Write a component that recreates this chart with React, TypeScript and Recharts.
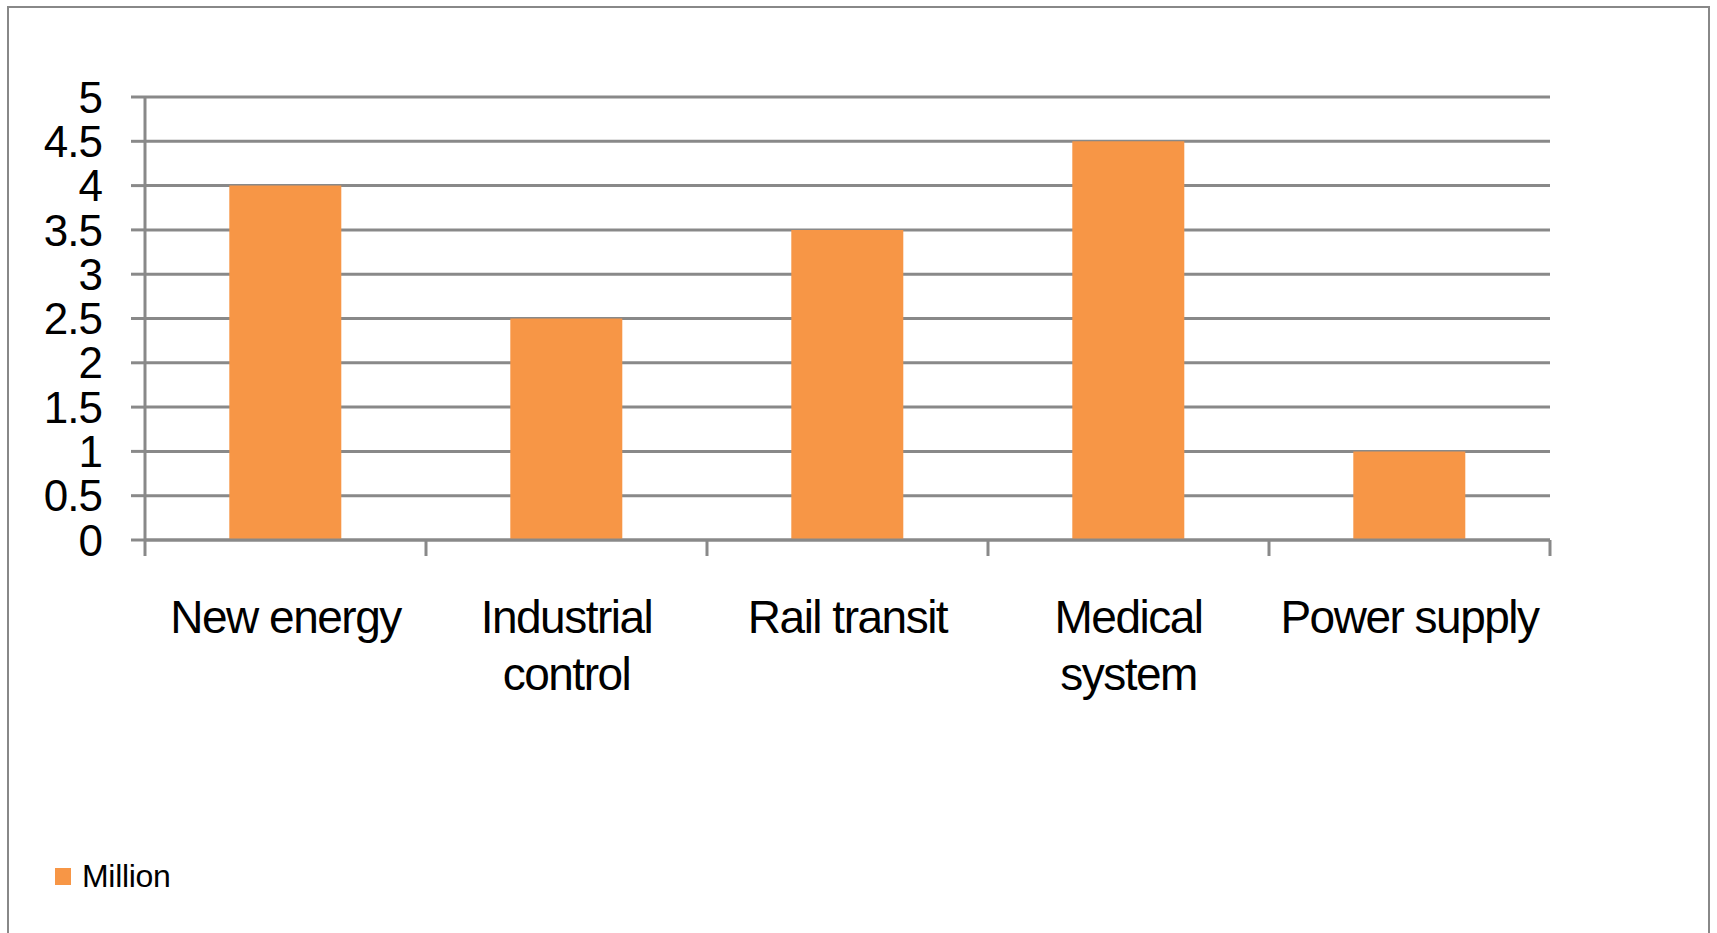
import React from 'react';
import { BarChart, Bar, XAxis, YAxis, CartesianGrid } from 'recharts';

const categories = ['New energy', 'Industrial control', 'Rail transit', 'Medical system', 'Power supply'];
const millionValues = [4, 2.5, 3.5, 4.5, 1];
const yTicks = [0, 0.5, 1, 1.5, 2, 2.5, 3, 3.5, 4, 4.5, 5];
const seriesName = 'Million';

const data = categories.map((c, i) => ({ category: c, value: millionValues[i] }));

const FONT = '"Liberation Sans", Arial, Helvetica, sans-serif';
const GRID = '#898989';
const ORANGE = '#F79646';

const splitLabel = (s: string): string[] => {
  if (s.length > 12) {
    const idx = s.indexOf(' ');
    return [s.slice(0, idx), s.slice(idx + 1)];
  }
  return [s];
};

const CategoryTick = (props: any) => {
  const { x, y, payload, index, visibleTicksCount } = props;
  const lines = splitLabel(String(payload.value));
  const half = typeof payload.offset === 'number' ? payload.offset : 0;
  const isLast = index === visibleTicksCount - 1;
  return (
    <g>
      {half > 0 && (
        <line x1={x - half} x2={x - half} y1={y} y2={y + 16} stroke={GRID} strokeWidth={3} />
      )}
      {half > 0 && isLast && (
        <line x1={x + half} x2={x + half} y1={y} y2={y + 16} stroke={GRID} strokeWidth={3} />
      )}
      {lines.map((ln, i) => (
        <text
          key={i}
          x={x}
          y={y}
          dy={93 + i * 57}
          textAnchor="middle"
          fill="#000"
          style={{ fontSize: 46, fontFamily: FONT, letterSpacing: -1.5 }}
        >
          {ln}
        </text>
      ))}
    </g>
  );
};

export default function App() {
  return (
    <div style={{ position: 'absolute', left: 0, top: 0, width: 1717, height: 933, overflow: 'hidden', background: '#fff' }}>
      <div
        style={{
          position: 'absolute',
          left: 7,
          top: 6,
          width: 1703,
          height: 1000,
          border: '2px solid #888',
          boxSizing: 'border-box',
        }}
      />
      <div style={{ position: 'absolute', left: 0, top: 0 }}>
        <BarChart
          width={1717}
          height={933}
          data={data}
          margin={{ top: 97, right: 167, bottom: 0, left: 0 }}
          barCategoryGap="30%"
        >
          <CartesianGrid vertical={false} stroke={GRID} strokeWidth={3} />
          <XAxis
            dataKey="category"
            height={393}
            axisLine={{ stroke: GRID, strokeWidth: 3 }}
            tickLine={false}
            tickSize={0}
            tickMargin={0}
            interval={0}
            tick={<CategoryTick />}
          />
          <YAxis
            width={145}
            domain={[0, 5]}
            ticks={yTicks}
            interval={0}
            tickSize={14}
            tickMargin={29}
            axisLine={{ stroke: GRID, strokeWidth: 3 }}
            tickLine={{ stroke: GRID, strokeWidth: 3 }}
            tick={{ fill: '#000', fontSize: 44, fontFamily: FONT, letterSpacing: -1 }}
          />
          <Bar dataKey="value" name={seriesName} fill={ORANGE} isAnimationActive={false} />
        </BarChart>
      </div>
      <div
        style={{
          position: 'absolute',
          left: 55,
          top: 860,
          display: 'flex',
          alignItems: 'center',
          fontFamily: FONT,
        }}
      >
        <div style={{ width: 16, height: 17, background: ORANGE, marginRight: 11 }} />
        <span style={{ fontSize: 32, color: '#000', lineHeight: '32px', letterSpacing: -0.3 }}>{seriesName}</span>
      </div>
    </div>
  );
}
